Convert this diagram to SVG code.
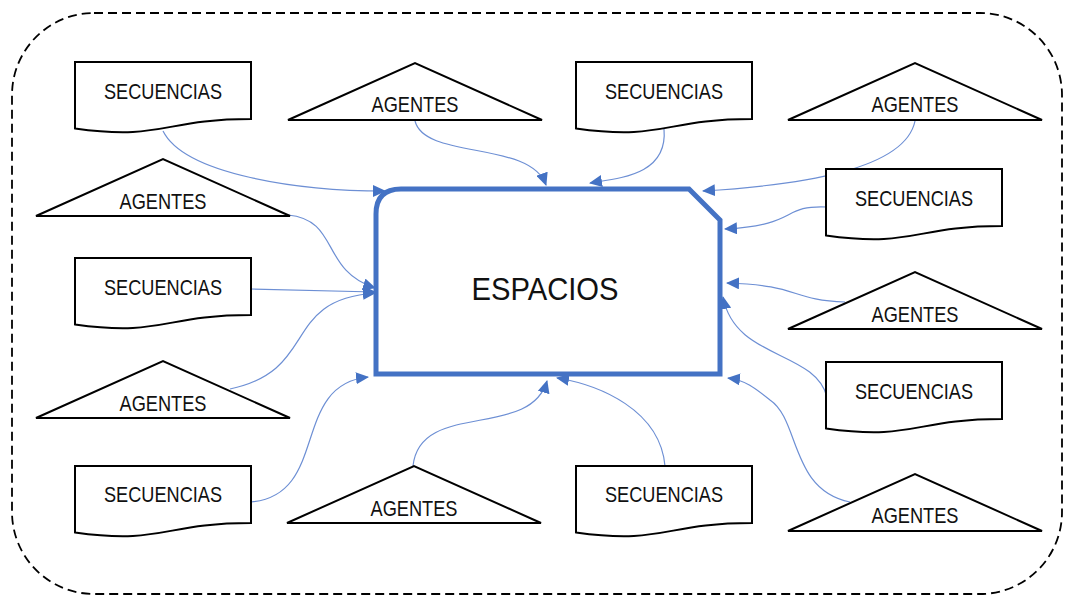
<svg xmlns="http://www.w3.org/2000/svg" width="1065" height="597" viewBox="0 0 1065 597">
<style>
.shape{fill:#fff;stroke:#000;stroke-width:2;stroke-linejoin:miter}
.lbl{font-family:"Liberation Sans",Arial,sans-serif;font-size:21.5px;fill:#111;text-anchor:middle}
.con{fill:none;stroke:#6d8fd4;stroke-width:1.2;marker-end:url(#ah)}
</style>
<defs>
<marker id="ah" markerUnits="userSpaceOnUse" markerWidth="14" markerHeight="12" refX="12" refY="6" orient="auto" viewBox="0 0 14 12">
<path d="M0,0 L13,6 L0,12 Z" fill="#4472C4"/>
</marker>
<path id="doc" d="M0,0 H176 V57 C88,57 88,78.7 0,66.4 Z"/>
<path id="tri" d="M0,57 L127,0 L254,57 Z"/>
</defs>
<rect x="12" y="13" width="1050" height="581" rx="82" ry="82" fill="none" stroke="#000" stroke-width="1.8" stroke-dasharray="9,5"/>
<g id="connectors">
<path class="con" d="M163,131 C185,175 300,191 385,191"/>
<path class="con" d="M415,121 C425,160 530,140 546,185"/>
<path class="con" d="M664,129 C668,175 620,178 590,183"/>
<path class="con" d="M915,121 C905,170 800,185 703,191"/>
<path class="con" d="M827,207 C780,205 800,225 725,229"/>
<path class="con" d="M845,302 C790,300 800,285 727,283"/>
<path class="con" d="M827,397 C815,350 735,360 723,297"/>
<path class="con" d="M850,502 C790,490 800,420 770,400 C755,388 745,380 728,378"/>
<path class="con" d="M665,466 C660,410 600,385 557,378"/>
<path class="con" d="M413,466 C420,400 530,440 547,381"/>
<path class="con" d="M251,502 C330,495 290,385 368,377"/>
<path class="con" d="M230,389 C320,370 280,300 375,293"/>
<path class="con" d="M251,289 L375,292"/>
<path class="con" d="M288,215 C340,220 320,270 375,288"/>
</g>
<g id="espacios">
<path d="M376,374 V214 Q376,189 401,189 H689 L720,220 V374 Z" fill="#fff" stroke="#4472C4" stroke-width="5" stroke-linejoin="miter"/>
<text x="545" y="300" font-family="'Liberation Sans',Arial,sans-serif" font-size="31" fill="#111" text-anchor="middle" textLength="147" lengthAdjust="spacingAndGlyphs">ESPACIOS</text>
</g>
<g id="sec1"><use href="#doc" class="shape" x="75" y="62"/><text class="lbl" x="163" y="99" textLength="118" lengthAdjust="spacingAndGlyphs">SECUENCIAS</text></g>
<g id="sec2"><use href="#doc" class="shape" x="576" y="62"/><text class="lbl" x="664" y="99" textLength="118" lengthAdjust="spacingAndGlyphs">SECUENCIAS</text></g>
<g id="sec3"><use href="#doc" class="shape" x="826" y="169"/><text class="lbl" x="914" y="206" textLength="118" lengthAdjust="spacingAndGlyphs">SECUENCIAS</text></g>
<g id="sec4"><use href="#doc" class="shape" x="75" y="258"/><text class="lbl" x="163" y="295" textLength="118" lengthAdjust="spacingAndGlyphs">SECUENCIAS</text></g>
<g id="sec5"><use href="#doc" class="shape" x="826" y="362"/><text class="lbl" x="914" y="399" textLength="118" lengthAdjust="spacingAndGlyphs">SECUENCIAS</text></g>
<g id="sec6"><use href="#doc" class="shape" x="75" y="466"/><text class="lbl" x="163" y="502" textLength="118" lengthAdjust="spacingAndGlyphs">SECUENCIAS</text></g>
<g id="sec7"><use href="#doc" class="shape" x="576" y="466"/><text class="lbl" x="664" y="502" textLength="118" lengthAdjust="spacingAndGlyphs">SECUENCIAS</text></g>
<g id="ag1"><use href="#tri" class="shape" x="288" y="63"/><text class="lbl" x="415" y="112" textLength="87" lengthAdjust="spacingAndGlyphs">AGENTES</text></g>
<g id="ag2"><use href="#tri" class="shape" x="788" y="63"/><text class="lbl" x="915" y="112" textLength="87" lengthAdjust="spacingAndGlyphs">AGENTES</text></g>
<g id="ag3"><use href="#tri" class="shape" x="36" y="159"/><text class="lbl" x="163" y="209" textLength="87" lengthAdjust="spacingAndGlyphs">AGENTES</text></g>
<g id="ag4"><use href="#tri" class="shape" x="36" y="361"/><text class="lbl" x="163" y="411" textLength="87" lengthAdjust="spacingAndGlyphs">AGENTES</text></g>
<g id="ag5"><use href="#tri" class="shape" x="788" y="272"/><text class="lbl" x="915" y="322" textLength="87" lengthAdjust="spacingAndGlyphs">AGENTES</text></g>
<g id="ag6"><use href="#tri" class="shape" x="287" y="466"/><text class="lbl" x="414" y="516" textLength="87" lengthAdjust="spacingAndGlyphs">AGENTES</text></g>
<g id="ag7"><use href="#tri" class="shape" x="788" y="474"/><text class="lbl" x="915" y="523" textLength="87" lengthAdjust="spacingAndGlyphs">AGENTES</text></g>
</svg>
